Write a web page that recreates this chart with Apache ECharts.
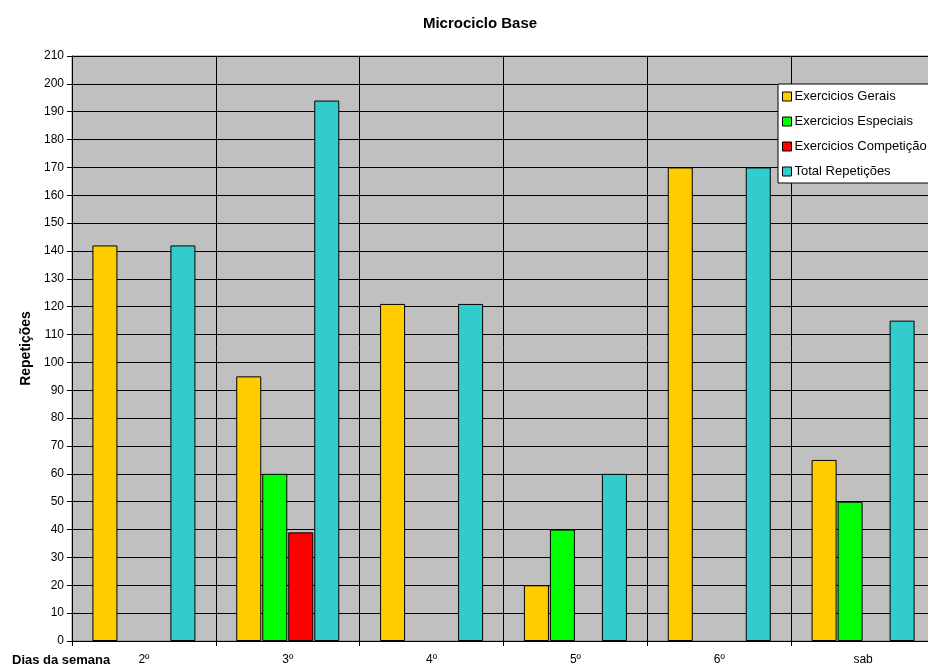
<!DOCTYPE html>
<html>
<head>
    <meta charset="utf-8">
    <title>Microciclo Base</title>
    <script src="https://cdn.jsdelivr.net/npm/echarts@6/dist/echarts.min.js"></script>
    <style>
        * { margin: 0; padding: 0; }
        body { background: #fff; overflow: hidden; }
    </style>
</head>
<body>
    <!-- o grafico original esta cortado na direita, por isso o div e mais largo -->
    <div id="main" style="width: 935px; height: 670px;"></div>
    <script type="text/javascript">
        // dias da semana e valores
        var dias = ['2º', '3º', '4º', '5º', '6º', 'sab'];
        var gerais = [142, 95, 121, 20, 170, 65];
        var especiais = [null, 60, null, 40, null, 50];
        var competicao = [null, 39, null, null, null, null];
        var total = [142, 194, 121, 60, 170, 115];

        var fonte = 'Liberation Sans';
        var myChart = echarts.init(document.getElementById('main'));

        function serie(nome, dados, cor) {
            return {
                name: nome,
                type: 'bar',
                data: dados,
                barWidth: 25,
                barGap: '4%',
                itemStyle: { color: cor, borderColor: '#000', borderWidth: 1 },
                emphasis: { disabled: true }
            };
        }

        var option = {
            animation: false,
            textStyle: { fontFamily: fonte },
            title: {
                text: 'Microciclo Base',
                left: 475,
                top: 11,
                textAlign: 'center',
                textStyle: { fontSize: 15, fontWeight: 'bold', color: '#000', fontFamily: fonte }
            },
            legend: {
                orient: 'vertical',
                left: 778,
                top: 84,
                itemWidth: 9,
                itemHeight: 9,
                itemGap: 12,
                padding: [6, 10, 5, 4],
                backgroundColor: '#fff',
                borderColor: '#000',
                borderWidth: 1,
                borderRadius: 0,
                icon: 'rect',
                textStyle: { fontSize: 13, color: '#000', fontFamily: fonte, padding: [0, 0, 0, -2] },
                itemStyle: { borderColor: '#000', borderWidth: 1 },
                data: ['Exercicios Gerais', 'Exercicios Especiais', 'Exercicios Competição', 'Total Repetições']
            },
            grid: {
                left: 72,
                top: 56,
                right: 0,
                bottom: 29,
                show: true,
                backgroundColor: '#c0c0c0',
                borderColor: '#808080',
                borderWidth: 1
            },
            xAxis: {
                type: 'category',
                data: dias,
                boundaryGap: true,
                axisLine: { lineStyle: { color: '#000', width: 1 } },
                axisTick: { show: true, length: 5, lineStyle: { color: '#000' } },
                axisLabel: { fontSize: 12, color: '#000', margin: 13 },
                splitLine: { show: true, lineStyle: { color: '#000', width: 1 } }
            },
            yAxis: {
                type: 'value',
                min: 0,
                max: 210,
                interval: 10,
                name: 'Repetições',
                nameLocation: 'middle',
                nameGap: 37,
                nameTextStyle: { fontSize: 14, fontWeight: 'bold', color: '#000' },
                axisLine: { show: true, lineStyle: { color: '#000', width: 1 } },
                axisTick: { show: true, length: 5, lineStyle: { color: '#000' } },
                axisLabel: { fontSize: 12, color: '#000', margin: 8 },
                splitLine: { show: true, lineStyle: { color: '#000', width: 1 } }
            },
            graphic: [{
                type: 'text',
                left: 12,
                top: 654,
                style: { text: 'Dias da semana', fontSize: 13, fontWeight: 'bold', fill: '#000', fontFamily: fonte }
            }],
            series: [
                serie('Exercicios Gerais', gerais, '#ffcc00'),
                serie('Exercicios Especiais', especiais, '#00ff00'),
                serie('Exercicios Competição', competicao, '#ff0000'),
                serie('Total Repetições', total, '#33cccc')
            ]
        };

        myChart.setOption(option);
    </script>
</body>
</html>
